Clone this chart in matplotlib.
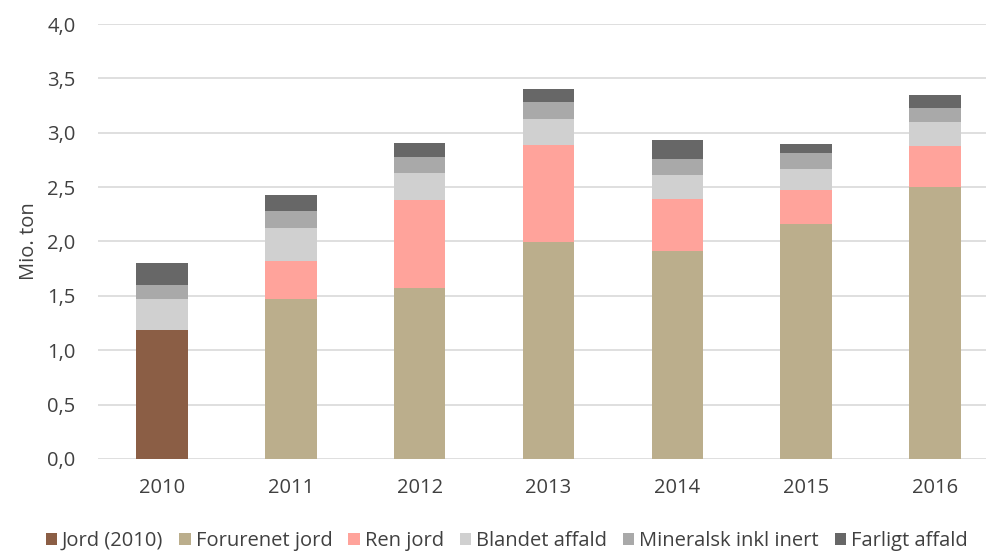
import matplotlib
matplotlib.use("Agg")
import matplotlib.pyplot as plt
import numpy as np

plt.rcParams['font.family'] = ['Open Sans', 'DejaVu Sans']

years = ['2010', '2011', '2012', '2013', '2014', '2015', '2016']
series_names = ['Jord (2010)', 'Forurenet jord', 'Ren jord', 'Blandet affald',
                'Mineralsk inkl inert', 'Farligt affald']
jord_2010 = [1.19, 0, 0, 0, 0, 0, 0]
forurenet_jord = [0, 1.47, 1.57, 2.00, 1.91, 2.16, 2.50]
ren_jord = [0, 0.35, 0.81, 0.89, 0.48, 0.31, 0.38]
blandet_affald = [0.28, 0.30, 0.25, 0.24, 0.22, 0.20, 0.22]
mineralsk = [0.13, 0.16, 0.15, 0.15, 0.15, 0.14, 0.13]
farligt_affald = [0.20, 0.15, 0.13, 0.12, 0.17, 0.09, 0.12]
colors = ['#8B5E45', '#BBAE8C', '#FFA39B', '#D0D0D0', '#A9A9A9', '#676767']

fig = plt.figure(figsize=(9.86, 5.52), dpi=100)
ax = fig.add_axes([0.099, 0.1685, 0.9146, 0.788])

x = np.arange(len(years))
bottom = np.zeros(len(years))
for name, vals, c in zip(series_names,
                         [jord_2010, forurenet_jord, ren_jord, blandet_affald, mineralsk, farligt_affald],
                         colors):
    v = np.array(vals, dtype=float)
    ax.bar(x, v, 0.4, bottom=bottom, color=c, label=name, zorder=3)
    bottom += v

fs = 14.5
ax.set_ylim(0, 4.0)
ax.set_xlim(-0.5, len(years) - 0.5)
yt = np.arange(0, 4.01, 0.5)
ax.set_yticks(yt)
ax.set_yticklabels([f"{t:.1f}".replace('.', ',') for t in yt], fontsize=fs, color='#404040')
ax.set_xticks(x)
ax.set_xticklabels(years, fontsize=fs, color='#404040')
ax.tick_params(axis='x', length=0, pad=14)
ax.tick_params(axis='y', length=0, pad=16)
ax.grid(axis='y', color='#D9D9D9', linewidth=1.2, zorder=0)
for s in ax.spines.values():
    s.set_visible(False)
ax.set_ylabel('Mio. ton', fontsize=fs, color='#404040', labelpad=6)

fig.legend(loc='center', bbox_to_anchor=(0.514, 0.02), ncol=6, frameon=False,
           fontsize=fs, handlelength=0.55, handleheight=0.55, handletextpad=0.25,
           columnspacing=0.8, labelcolor='#404040')

fig.savefig('out.png', dpi=100)
